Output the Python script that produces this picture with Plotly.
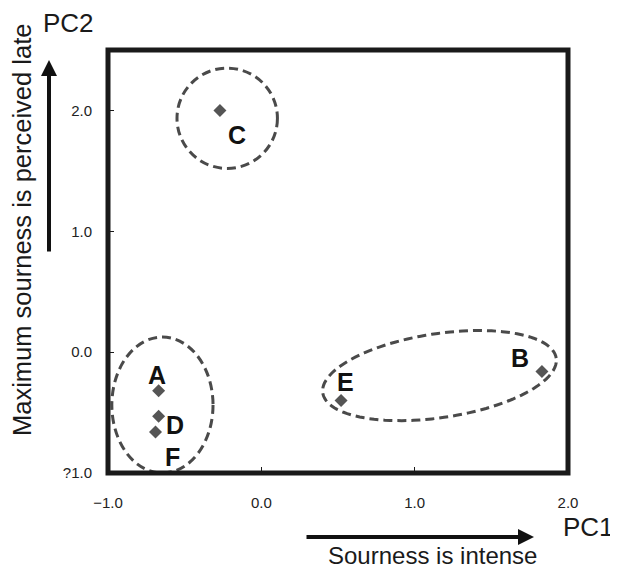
import numpy as np
import plotly.graph_objects as go

# ---- data ----
samples = ["A", "B", "C", "D", "E", "F"]
pc1 = [-0.67, 1.83, -0.27, -0.67, 0.52, -0.69]
pc2 = [-0.32, -0.16, 2.00, -0.53, -0.40, -0.66]
label_dx = [-0.01, -0.14, 0.11, 0.11, 0.03, 0.11]
label_dy = [0.13, 0.11, -0.20, -0.07, 0.15, -0.21]

x_tickvals = [-1.0, 0.0, 1.0, 2.0]
x_ticktext = ["\u22121.0", "0.0", "1.0", "2.0"]
y_tickvals = [-1.0, 0.0, 1.0, 2.0]
y_ticktext = ["?1.0", "0.0", "1.0", "2.0"]

# group outlines (data coordinates): axis-aligned ellipses
circle_groups = [
    dict(x0=-0.55, x1=0.105, y0=1.52, y1=2.35),   # C
    dict(x0=-0.975, x1=-0.315, y0=-1.0, y1=0.125),  # A, D, F
]
# tilted ellipse (B, E): centre in data, semi-axes in pixels, angle in deg
tilted_center = (1.162, -0.194)
tilted_axes_px = (118, 42)
tilted_angle = 8.5

OFF = 8  # page body margin
W, H = 618 - OFF, 570 - OFF
# plot area in page pixels: left 108, right 568, top 50, bottom 473
ML, MT = 108 - OFF, 50 - OFF
MR, MB = W - (568 - OFF), H - (473 - OFF)
pw, ph = W - ML - MR, H - MT - MB
xr, yr = [-1.0, 2.0], [-1.0, 2.5]
sx = pw / (xr[1] - xr[0])
sy = ph / (yr[1] - yr[0])

fig = go.Figure()
fig.add_trace(go.Scatter(
    x=pc1, y=pc2, mode="markers",
    marker=dict(symbol="diamond", size=10, color="#555555"),
    hoverinfo="skip", showlegend=False))

line_style = dict(color="#4a4a4a", width=3, dash="9px,5px")
for g in circle_groups:
    fig.add_shape(type="circle", xref="x", yref="y", line=line_style, **g)

t = np.linspace(0, 2 * np.pi, 120)
phi = np.deg2rad(tilted_angle)
a, b = tilted_axes_px
ex = tilted_center[0] + (a * np.cos(t) * np.cos(phi) - b * np.sin(t) * np.sin(phi)) / sx
ey = tilted_center[1] + (a * np.cos(t) * np.sin(phi) + b * np.sin(t) * np.cos(phi)) / sy
path = "M " + " L ".join(f"{u:.4f},{v:.4f}" for u, v in zip(ex, ey)) + " Z"
fig.add_shape(type="path", path=path, xref="x", yref="y", line=line_style)

# frame
fig.add_shape(type="rect", xref="paper", yref="paper", x0=0, x1=1, y0=0, y1=1,
              line=dict(color="#1a1a1a", width=5))

font_main = "Liberation Sans, Arial"
for s, x, y, dx, dy in zip(samples, pc1, pc2, label_dx, label_dy):
    fig.add_annotation(x=x + dx, y=y + dy, xref="x", yref="y", text=f"<b>{s}</b>",
                       showarrow=False, xanchor="center", yanchor="middle",
                       font=dict(size=25, color="#111111", family=font_main))

def px_to_paper(px, py):
    return (px - OFF - ML) / pw, (H - MB - (py - OFF)) / ph

# arrows
hx, hy = px_to_paper(534, 537)
fig.add_annotation(x=hx, y=hy, xref="paper", yref="paper", ax=-229, ay=0,
                   text="", showarrow=True, arrowhead=2, arrowsize=0.8,
                   arrowwidth=4, arrowcolor="#111111")
vx, vy = px_to_paper(49, 60)
fig.add_annotation(x=vx, y=vy, xref="paper", yref="paper", ax=0, ay=193,
                   text="", showarrow=True, arrowhead=2, arrowsize=0.8,
                   arrowwidth=4, arrowcolor="#111111")

for txt, (px, py), size, ang in [
    ("PC1", (588, 527), 26, 0),
    ("PC2", (68, 23), 26, 0),
    ("Sourness is intense", (432, 555), 24, 0),
    ("Maximum sourness is perceived late", (22, 230), 25.5, -90),
]:
    qx, qy = px_to_paper(px, py)
    fig.add_annotation(x=qx, y=qy, xref="paper", yref="paper", text=txt,
                       showarrow=False, textangle=ang,
                       xanchor="center", yanchor="middle",
                       font=dict(size=size, color="#1a1a1a", family=font_main))

axis_common = dict(showgrid=False, zeroline=False, showline=False,
                   ticks="inside", ticklen=6,
                   tickwidth=1, tickcolor="#1a1a1a",
                   tickfont=dict(size=15, color="#222222", family=font_main))
fig.update_xaxes(range=xr, tickvals=x_tickvals, ticktext=x_ticktext,
                 ticklabelstandoff=19, **axis_common)
fig.update_yaxes(range=yr, tickvals=y_tickvals, ticktext=y_ticktext,
                 ticklabelstandoff=15, **axis_common)

fig.update_layout(width=W, height=H, margin=dict(l=ML, r=MR, t=MT, b=MB),
                  plot_bgcolor="white", paper_bgcolor="white", showlegend=False)

fig.write_html("out.html")
